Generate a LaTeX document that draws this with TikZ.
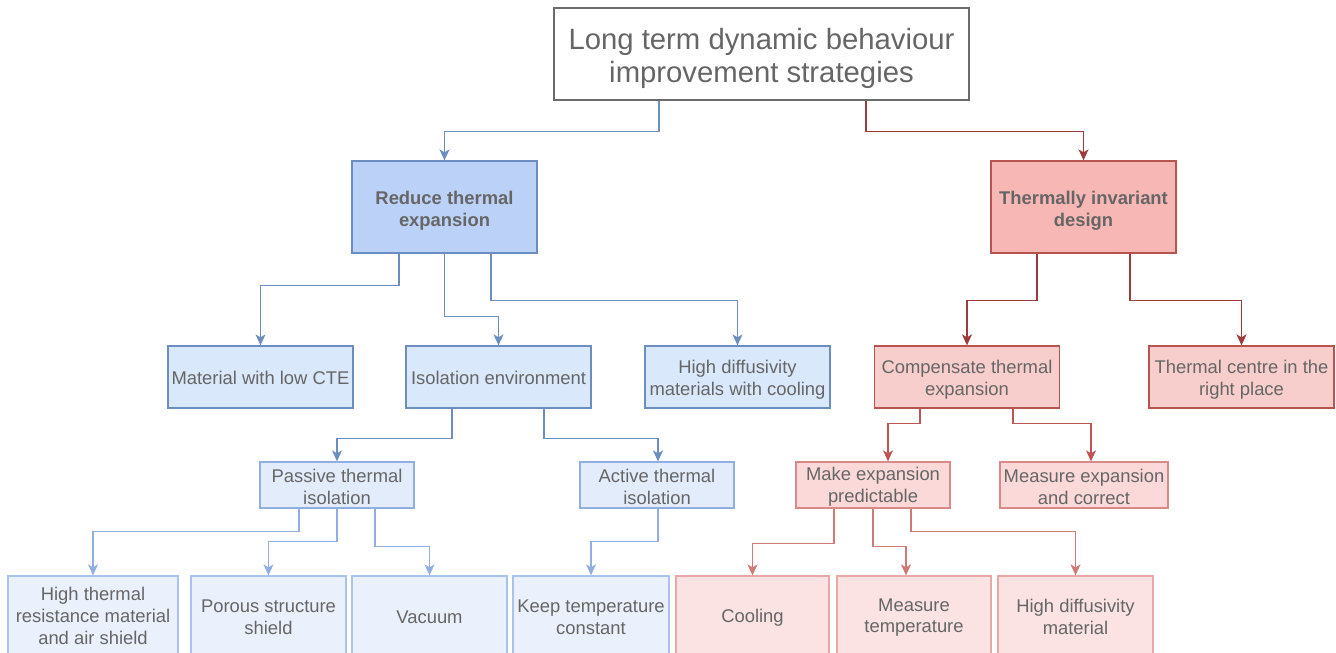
\documentclass[tikz,border=0pt]{standalone}
\usepackage{fontspec}
\setmainfont{Liberation Sans}
\usetikzlibrary{arrows.meta}

\definecolor{txt}{HTML}{666666}
\definecolor{topline}{HTML}{6B6B6B}
% blue branch
\definecolor{bAfill}{HTML}{BCD1F7}
\definecolor{bAline}{HTML}{6C8EBF}
\definecolor{bBfill}{HTML}{DAE8FC}
\definecolor{bBline}{HTML}{6C8EBF}
\definecolor{bCfill}{HTML}{E3ECFB}
\definecolor{bCline}{HTML}{90AEE0}
\definecolor{bDfill}{HTML}{EAF1FC}
\definecolor{bDline}{HTML}{A9C3EC}
% red branch
\definecolor{rAfill}{HTML}{F7B7B5}
\definecolor{rAline}{HTML}{B85450}
\definecolor{rEdge}{HTML}{9C3B3B}
\definecolor{rBfill}{HTML}{F8CECC}
\definecolor{rBline}{HTML}{B85450}
\definecolor{rBedge}{HTML}{BF5552}
\definecolor{rCfill}{HTML}{FAD9D8}
\definecolor{rCline}{HTML}{D98A88}
\definecolor{rCedge}{HTML}{D07A78}
\definecolor{rDfill}{HTML}{FBE3E3}
\definecolor{rDline}{HTML}{E8A8A6}

\tikzset{
  box/.style={draw, line width=1.3pt, inner sep=0pt},
  % text placed at the centre of a box, lowered by #1
  caption/.style={align=center, text=txt, inner sep=0pt, yshift=-#1,
    font=\fontsize{18.4}{21.8}\selectfont},
  bigcaption/.style={caption=#1, font=\fontsize{29.3}{33}\selectfont},
  boldcaption/.style={caption=#1, font=\fontsize{18.4}{21.8}\selectfont\bfseries},
  topbox/.style={box, draw=topline, fill=white, minimum width=415, minimum height=92},
  blueA/.style={box, draw=bAline, fill=bAfill, minimum width=185, minimum height=92},
  redA/.style={box, draw=rAline, fill=rAfill, minimum width=185, minimum height=92},
  blueB/.style={box, draw=bBline, fill=bBfill, minimum width=185, minimum height=62},
  redB/.style={box, draw=rBline, fill=rBfill, minimum width=185, minimum height=62},
  blueC/.style={box, draw=bCline, fill=bCfill, minimum width=154, minimum height=46},
  redC/.style={box, draw=rCline, fill=rCfill, minimum width=154, minimum height=46},
  blueD/.style={box, draw=bDline, fill=bDfill, minimum width=155, minimum height=80},
  redD/.style={box, draw=rDline, fill=rDfill, minimum width=155, minimum height=80},
  link/.style={line width=1.3pt, -{Stealth[length=11,width=10,inset=3]}},
}

\begin{document}
\begin{tikzpicture}[x=1pt,y=-1pt]
\useasboundingbox (0,0) rectangle (1336,653);

% root
\node[topbox, label={[bigcaption=4.5]center:Long term dynamic behaviour\\improvement strategies}] (root) at (761.5,54) {};

% first level
\node[blueA, label={[boldcaption=3.5]center:Reduce thermal\\expansion}] (reduce) at (444.5,207) {};
\node[redA, label={[boldcaption=3.5]center:Thermally invariant\\design}] (invariant) at (1083.5,207) {};

% second level
\node[blueB, label={[caption=1]center:Material with low CTE}] (lowcte) at (260.5,377) {};
\node[blueB, label={[caption=1]center:Isolation environment}] (isoenv) at (498.5,377) {};
\node[blueB, label={[caption=2.5]center:High diffusivity\\materials with cooling}] (hdcool) at (737.5,377) {};
\node[redB, label={[caption=2.5]center:Compensate thermal\\expansion}] (compens) at (967,377) {};
\node[redB, label={[caption=2.5]center:Thermal centre in the\\right place}] (centre) at (1241.5,377) {};

% third level
\node[blueC, label={[caption=2]center:Passive thermal\\isolation}] (passive) at (337,485) {};
\node[blueC, label={[caption=2]center:Active thermal\\isolation}] (active) at (657,485) {};
\node[redC, label={[caption=2]center:Make expansion\\predictable}] (predict) at (873,485) {};
\node[redC, minimum width=168, label={[caption=2]center:Measure expansion\\and correct}] (measure) at (1084,485) {};

% fourth level
\node[blueD, minimum width=170, label={[caption=0]center:High thermal\\resistance material\\and air shield}] (resist) at (93,616) {};
\node[blueD, label={[caption=1]center:Porous structure\\shield}] (porous) at (268.5,616) {};
\node[blueD, label={[caption=1]center:Vacuum}] (vacuum) at (429.5,616) {};
\node[blueD, minimum width=156, label={[caption=1]center:Keep temperature\\constant}] (keep) at (591,616) {};
\node[redD, minimum width=153, label={[caption=1.5]center:Cooling}] (cooling) at (752.5,616) {};
\node[redD, minimum width=154, label={[caption=1.5]center:Measure\\temperature}] (meastemp) at (914,616) {};
\node[redD, label={[caption=1]center:High diffusivity\\material}] (hdmat) at (1075.5,616) {};

% root connectors
\draw[link, bAline] ([xshift=-102.5]root.south) -- ++(0,31) -| (reduce.north);
\draw[link, rEdge] ([xshift=104.5]root.south) -- ++(0,31) -| (invariant.north);

% reduce thermal expansion
\draw[link, bBline] ([xshift=-45.5]reduce.south) -- ++(0,32) -| (lowcte.north);
\draw[link, bBline] (reduce.south) -- ++(0,63) -| (isoenv.north);
\draw[link, bBline] ([xshift=46.5]reduce.south) -- ++(0,47) -| (hdcool.north);

% thermally invariant design
\draw[link, rEdge] ([xshift=-46.5]invariant.south) -- ++(0,47) -| (compens.north);
\draw[link, rEdge] ([xshift=46.5]invariant.south) -- ++(0,47) -| (centre.north);

% isolation environment
\draw[link, bBline] ([xshift=-46.5]isoenv.south) -- ++(0,30) -| (passive.north);
\draw[link, bBline] ([xshift=45.5]isoenv.south) -- ++(0,30) -| ([xshift=1]active.north);

% compensate thermal expansion
\draw[link, rBedge] ([xshift=-47]compens.south) -- ++(0,15) -| ([xshift=15]predict.north);
\draw[link, rBedge] ([xshift=46]compens.south) -- ++(0,15) -| ([xshift=7]measure.north);

% passive thermal isolation
\draw[link, bCline] ([xshift=-38]passive.south) -- ++(0,23) -| (resist.north);
\draw[link, bCline] (passive.south) -- ++(0,33) -| (porous.north);
\draw[link, bCline] ([xshift=38]passive.south) -- ++(0,38) -| (vacuum.north);

% active thermal isolation
\draw[link, bCline] ([xshift=1]active.south) -- ++(0,33) -| (keep.north);

% make expansion predictable
\draw[link, rCedge] ([xshift=-39]predict.south) -- ++(0,35) -| (cooling.north);
\draw[link, rCedge] (predict.south) -- ++(0,38) -| ([xshift=-8]meastemp.north);
\draw[link, rCedge] ([xshift=38]predict.south) -- ++(0,23) -| (hdmat.north);
\end{tikzpicture}
\end{document}
